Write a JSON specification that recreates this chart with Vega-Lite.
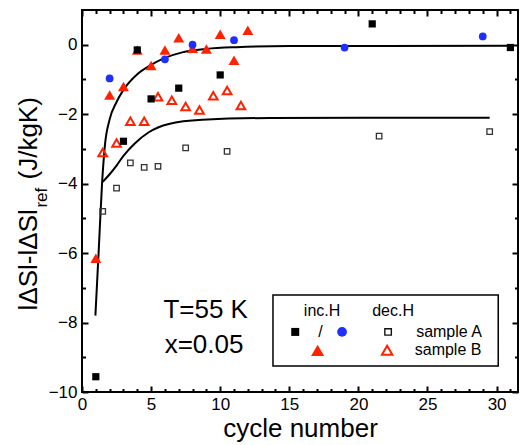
{
  "$schema": "https://vega.github.io/schema/vega-lite/v6.json",
  "width": 436,
  "height": 382,
  "autosize": {"type": "none"},
  "padding": {"left": 82, "top": 10, "right": 4, "bottom": 53},
  "background": "white",
  "config": {
    "view": {"stroke": "black", "strokeWidth": 2},
    "axis": {"domain": false, "grid": false, "tickColor": "black", "tickWidth": 2, "labelFont": "Liberation Sans", "labelFontSize": 17, "labelColor": "black", "labelFlush": false, "titleFont": "Liberation Sans", "titleFontSize": 26, "titleFontWeight": "normal", "titleColor": "black"},
    "text": {"font": "Liberation Sans", "color": "black"}
  },
  "datasets": {
    "fit_up": [
      {"x": 0.97, "y": -7.8}, {"x": 1.2, "y": -6.0}, {"x": 1.45, "y": -4.0}, {"x": 1.67, "y": -2.85},
      {"x": 2.0, "y": -2.15}, {"x": 2.5, "y": -1.65}, {"x": 3.0, "y": -1.3}, {"x": 4.0, "y": -0.85},
      {"x": 5.0, "y": -0.58}, {"x": 6.0, "y": -0.38}, {"x": 7.25, "y": -0.22}, {"x": 9.0, "y": -0.12},
      {"x": 11.2, "y": -0.07}, {"x": 15.0, "y": -0.04}, {"x": 31.2, "y": -0.03}
    ],
    "fit_lo": [
      {"x": 1.5, "y": -3.95}, {"x": 2.0, "y": -3.73}, {"x": 2.5, "y": -3.48}, {"x": 3.0, "y": -3.2},
      {"x": 3.8, "y": -2.85}, {"x": 4.83, "y": -2.52}, {"x": 6.28, "y": -2.28}, {"x": 8.7, "y": -2.16},
      {"x": 13.6, "y": -2.11}, {"x": 29.5, "y": -2.1}
    ],
    "A_dec": [
      {"x": 1.5, "y": -4.8}, {"x": 2.5, "y": -4.13}, {"x": 3.5, "y": -3.4}, {"x": 4.5, "y": -3.53},
      {"x": 5.5, "y": -3.5}, {"x": 7.5, "y": -2.97}, {"x": 10.5, "y": -3.07}, {"x": 21.5, "y": -2.63},
      {"x": 29.5, "y": -2.5}
    ],
    "B_dec": [
      {"x": 1.5, "y": -3.1}, {"x": 2.5, "y": -2.83}, {"x": 3.5, "y": -2.2}, {"x": 4.5, "y": -2.2},
      {"x": 5.5, "y": -1.5}, {"x": 6.5, "y": -1.6}, {"x": 7.5, "y": -1.78}, {"x": 8.5, "y": -1.88},
      {"x": 9.5, "y": -1.47}, {"x": 10.5, "y": -1.32}, {"x": 11.5, "y": -1.75}
    ],
    "B_inc": [
      {"x": 1, "y": -6.15}, {"x": 2, "y": -1.45}, {"x": 3, "y": -1.2}, {"x": 4, "y": -0.15},
      {"x": 5, "y": -0.6}, {"x": 6, "y": -0.15}, {"x": 7, "y": 0.2}, {"x": 8, "y": -0.1},
      {"x": 9, "y": -0.12}, {"x": 10, "y": 0.3}, {"x": 11, "y": -0.45}, {"x": 12, "y": 0.42}
    ],
    "A_inc": [
      {"x": 1, "y": -9.56}, {"x": 3, "y": -2.78}, {"x": 4, "y": -0.15}, {"x": 5, "y": -1.56},
      {"x": 7, "y": -1.25}, {"x": 10, "y": -0.87}, {"x": 21, "y": 0.6}, {"x": 31, "y": -0.08}
    ],
    "A_inc_b": [
      {"x": 2, "y": -0.97}, {"x": 6, "y": -0.42}, {"x": 8, "y": 0.0}, {"x": 11, "y": 0.13},
      {"x": 19, "y": -0.08}, {"x": 29, "y": 0.24}
    ],
    "box": [{"x": 13.82, "x2": 30.12, "y": -7.21, "y2": -9.25}],
    "leg": [
      {"x": 15.43, "y": -8.27, "s": "A_inc"}, {"x": 18.82, "y": -8.27, "s": "A_inc_b"},
      {"x": 22.15, "y": -8.27, "s": "A_dec"}, {"x": 17.05, "y": -8.80, "s": "B_inc"},
      {"x": 22.08, "y": -8.80, "s": "B_dec"}
    ],
    "legtxt": [
      {"x": 17.37, "y": -7.66, "t": "inc.H"}, {"x": 22.51, "y": -7.66, "t": "dec.H"},
      {"x": 17.25, "y": -8.27, "t": "/"}, {"x": 26.56, "y": -8.27, "t": "sample A"},
      {"x": 26.49, "y": -8.80, "t": "sample B"}
    ],
    "ann": [
      {"x": 5.89, "y": -7.64, "t": "T=55 K"}, {"x": 5.98, "y": -8.65, "t": "x=0.05"}
    ],
    "ytitle": [
      {"x": -3.28, "y": -7.65, "t": "lΔSl-lΔSl", "p": "main"},
      {"x": -2.54, "y": -4.69, "t": "ref", "p": "sub"},
      {"x": -3.28, "y": -3.88, "t": "(J/kgK)", "p": "main"}
    ]
  },
  "layer": [
    {
      "data": {"name": "fit_up"},
      "mark": {"type": "line", "color": "black", "strokeWidth": 2, "interpolate": "monotone"},
      "encoding": {
        "x": {"field": "x", "type": "quantitative", "scale": {"domain": [0, 31.55], "nice": false, "zero": false},
              "axis": {"orient": "bottom", "values": [0, 5, 10, 15, 20, 25, 30], "tickSize": -6, "labelPadding": 10, "title": "cycle number", "titlePadding": 3}},
        "y": {"field": "y", "type": "quantitative", "scale": {"domain": [-10, 1], "nice": false, "zero": false},
              "axis": {"orient": "left", "values": [-10, -8, -6, -4, -2, 0], "tickSize": -6, "labelPadding": 11, "title": null}}
      }
    },
    {
      "data": {"name": "fit_lo"},
      "mark": {"type": "line", "color": "black", "strokeWidth": 2, "interpolate": "monotone"},
      "encoding": {
        "x": {"field": "x", "type": "quantitative", "scale": {"domain": [0, 31.55], "nice": false, "zero": false},
              "axis": {"orient": "bottom", "values": [1, 2, 3, 4, 6, 7, 8, 9, 11, 12, 13, 14, 16, 17, 18, 19, 21, 22, 23, 24, 26, 27, 28, 29, 31], "tickSize": -3.5, "labels": false, "title": null}},
        "y": {"field": "y", "type": "quantitative", "scale": {"domain": [-10, 1], "nice": false, "zero": false},
              "axis": {"orient": "left", "values": [-9, -7, -5, -3, -1], "tickSize": -3.5, "labels": false, "title": null}}
      }
    },
    {
      "data": {"name": "A_dec"},
      "mark": {"type": "point", "shape": "square", "filled": false, "stroke": "#333333", "strokeWidth": 1.3, "size": 30, "opacity": 1},
      "encoding": {
        "x": {"field": "x", "type": "quantitative", "scale": {"domain": [0, 31.55], "nice": false, "zero": false},
              "axis": {"orient": "top", "values": [0, 5, 10, 15, 20, 25, 30], "tickSize": -6, "labels": false, "title": null}},
        "y": {"field": "y", "type": "quantitative", "scale": {"domain": [-10, 1], "nice": false, "zero": false},
              "axis": {"orient": "right", "values": [-10, -8, -6, -4, -2, 0], "tickSize": -6, "labels": false, "title": null}}
      }
    },
    {
      "data": {"name": "B_dec"},
      "mark": {"type": "point", "shape": "triangle-up", "filled": false, "stroke": "#ff2200", "strokeWidth": 2, "size": 75, "opacity": 1},
      "encoding": {
        "x": {"field": "x", "type": "quantitative", "scale": {"domain": [0, 31.55], "nice": false, "zero": false},
              "axis": {"orient": "top", "values": [1, 2, 3, 4, 6, 7, 8, 9, 11, 12, 13, 14, 16, 17, 18, 19, 21, 22, 23, 24, 26, 27, 28, 29, 31], "tickSize": -3.5, "labels": false, "title": null}},
        "y": {"field": "y", "type": "quantitative", "scale": {"domain": [-10, 1], "nice": false, "zero": false},
              "axis": {"orient": "right", "values": [-9, -7, -5, -3, -1], "tickSize": -3.5, "labels": false, "title": null}}
      }
    },
    {
      "data": {"name": "B_inc"},
      "mark": {"type": "point", "shape": "triangle-up", "filled": true, "fill": "#ff2200", "strokeWidth": 0, "size": 120, "opacity": 1},
      "encoding": {
        "x": {"field": "x", "type": "quantitative", "scale": {"domain": [0, 31.55], "nice": false, "zero": false}, "axis": null},
        "y": {"field": "y", "type": "quantitative", "scale": {"domain": [-10, 1], "nice": false, "zero": false}, "axis": null}
      }
    },
    {
      "data": {"name": "A_inc"},
      "mark": {"type": "point", "shape": "square", "filled": true, "fill": "black", "strokeWidth": 0, "size": 52, "opacity": 1},
      "encoding": {
        "x": {"field": "x", "type": "quantitative", "scale": {"domain": [0, 31.55], "nice": false, "zero": false}, "axis": null},
        "y": {"field": "y", "type": "quantitative", "scale": {"domain": [-10, 1], "nice": false, "zero": false}, "axis": null}
      }
    },
    {
      "data": {"name": "A_inc_b"},
      "mark": {"type": "point", "shape": "circle", "filled": true, "fill": "#1f2fff", "strokeWidth": 0, "size": 60, "opacity": 1},
      "encoding": {
        "x": {"field": "x", "type": "quantitative", "scale": {"domain": [0, 31.55], "nice": false, "zero": false}, "axis": null},
        "y": {"field": "y", "type": "quantitative", "scale": {"domain": [-10, 1], "nice": false, "zero": false}, "axis": null}
      }
    },
    {
      "data": {"name": "box"},
      "mark": {"type": "rect", "fill": null, "fillOpacity": 0, "stroke": "black", "strokeWidth": 1.5},
      "encoding": {
        "x": {"field": "x", "type": "quantitative", "scale": {"domain": [0, 31.55], "nice": false, "zero": false}, "axis": null},
        "x2": {"field": "x2"},
        "y": {"field": "y", "type": "quantitative", "scale": {"domain": [-10, 1], "nice": false, "zero": false}, "axis": null},
        "y2": {"field": "y2"}
      }
    },
    {
      "data": {"name": "leg"},
      "transform": [{"filter": "datum.s === 'A_inc'"}],
      "mark": {"type": "point", "shape": "square", "filled": true, "fill": "black", "strokeWidth": 0, "size": 64, "opacity": 1},
      "encoding": {
        "x": {"field": "x", "type": "quantitative", "scale": {"domain": [0, 31.55], "nice": false, "zero": false}, "axis": null},
        "y": {"field": "y", "type": "quantitative", "scale": {"domain": [-10, 1], "nice": false, "zero": false}, "axis": null}
      }
    },
    {
      "data": {"name": "leg"},
      "transform": [{"filter": "datum.s === 'A_inc_b'"}],
      "mark": {"type": "point", "shape": "circle", "filled": true, "fill": "#1f2fff", "strokeWidth": 0, "size": 95, "opacity": 1},
      "encoding": {
        "x": {"field": "x", "type": "quantitative", "scale": {"domain": [0, 31.55], "nice": false, "zero": false}, "axis": null},
        "y": {"field": "y", "type": "quantitative", "scale": {"domain": [-10, 1], "nice": false, "zero": false}, "axis": null}
      }
    },
    {
      "data": {"name": "leg"},
      "transform": [{"filter": "datum.s === 'A_dec'"}],
      "mark": {"type": "point", "shape": "square", "filled": false, "stroke": "#111111", "strokeWidth": 1.4, "size": 42, "opacity": 1},
      "encoding": {
        "x": {"field": "x", "type": "quantitative", "scale": {"domain": [0, 31.55], "nice": false, "zero": false}, "axis": null},
        "y": {"field": "y", "type": "quantitative", "scale": {"domain": [-10, 1], "nice": false, "zero": false}, "axis": null}
      }
    },
    {
      "data": {"name": "leg"},
      "transform": [{"filter": "datum.s === 'B_inc'"}],
      "mark": {"type": "point", "shape": "triangle-up", "filled": true, "fill": "#ff2200", "strokeWidth": 0, "size": 170, "opacity": 1},
      "encoding": {
        "x": {"field": "x", "type": "quantitative", "scale": {"domain": [0, 31.55], "nice": false, "zero": false}, "axis": null},
        "y": {"field": "y", "type": "quantitative", "scale": {"domain": [-10, 1], "nice": false, "zero": false}, "axis": null}
      }
    },
    {
      "data": {"name": "leg"},
      "transform": [{"filter": "datum.s === 'B_dec'"}],
      "mark": {"type": "point", "shape": "triangle-up", "filled": false, "stroke": "#ff2200", "strokeWidth": 2, "size": 110, "opacity": 1},
      "encoding": {
        "x": {"field": "x", "type": "quantitative", "scale": {"domain": [0, 31.55], "nice": false, "zero": false}, "axis": null},
        "y": {"field": "y", "type": "quantitative", "scale": {"domain": [-10, 1], "nice": false, "zero": false}, "axis": null}
      }
    },
    {
      "data": {"name": "legtxt"},
      "mark": {"type": "text", "fontSize": 16, "align": "center", "baseline": "middle", "color": "black"},
      "encoding": {
        "x": {"field": "x", "type": "quantitative", "scale": {"domain": [0, 31.55], "nice": false, "zero": false}, "axis": null},
        "y": {"field": "y", "type": "quantitative", "scale": {"domain": [-10, 1], "nice": false, "zero": false}, "axis": null},
        "text": {"field": "t"}
      }
    },
    {
      "data": {"name": "ann"},
      "mark": {"type": "text", "fontSize": 26, "align": "left", "baseline": "middle", "color": "black"},
      "encoding": {
        "x": {"field": "x", "type": "quantitative", "scale": {"domain": [0, 31.55], "nice": false, "zero": false}, "axis": null},
        "y": {"field": "y", "type": "quantitative", "scale": {"domain": [-10, 1], "nice": false, "zero": false}, "axis": null},
        "text": {"field": "t"}
      }
    },
    {
      "data": {"name": "ytitle"},
      "transform": [{"filter": "datum.p === 'main'"}],
      "mark": {"type": "text", "fontSize": 26, "align": "left", "baseline": "alphabetic", "angle": 270, "color": "black"},
      "encoding": {
        "x": {"field": "x", "type": "quantitative", "scale": {"domain": [0, 31.55], "nice": false, "zero": false}, "axis": null},
        "y": {"field": "y", "type": "quantitative", "scale": {"domain": [-10, 1], "nice": false, "zero": false}, "axis": null},
        "text": {"field": "t"}
      }
    },
    {
      "data": {"name": "ytitle"},
      "transform": [{"filter": "datum.p === 'sub'"}],
      "mark": {"type": "text", "fontSize": 17, "align": "left", "baseline": "alphabetic", "angle": 270, "color": "black"},
      "encoding": {
        "x": {"field": "x", "type": "quantitative", "scale": {"domain": [0, 31.55], "nice": false, "zero": false}, "axis": null},
        "y": {"field": "y", "type": "quantitative", "scale": {"domain": [-10, 1], "nice": false, "zero": false}, "axis": null},
        "text": {"field": "t"}
      }
    }
  ],
  "resolve": {"axis": {"x": "independent", "y": "independent"}}
}
